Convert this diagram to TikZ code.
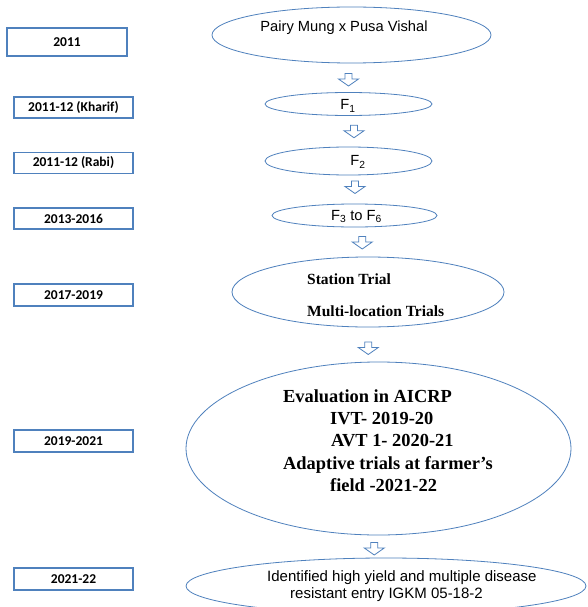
\documentclass[tikz,border=0pt]{standalone}
\usepackage{fontspec}
\setmainfont{Liberation Serif}
\newfontfamily\arialfont{Liberation Sans}
\newfontfamily\calfont{Carlito}
\usetikzlibrary{shapes.geometric, calc}

\definecolor{shapeblue}{RGB}{79,129,189}

\tikzset{
    yearbox/.style={draw=shapeblue, line width=1.1pt, fill=white,
        minimum width=119pt, minimum height=21pt, inner sep=0pt,
        font=\calfont\bfseries\fontsize{13.5}{15}\selectfont},
    stagebox/.style={ellipse, draw=shapeblue, line width=0.8pt, inner sep=0pt},
    sanslabel/.style={font=\arialfont\fontsize{14.7}{17}\selectfont, inner sep=0pt},
    seriflabel/.style={font=\bfseries\fontsize{15.5}{18}\selectfont, inner sep=0pt},
    arrowline/.style={draw=shapeblue, line width=0.8pt, line join=miter},
    dnarrow/.pic={
        \path[arrowline] (-3.5,-6) -- (3.5,-6) -- (3.5,-0.5) -- (10,-0.5)
            -- (0,6.5) -- (-10,-0.5) -- (-3.5,-0.5) -- cycle;
    }
}

\begin{document}
\begin{tikzpicture}[x=1pt, y=-1pt]
    \fill[white] (0,0) rectangle (587,607);
    \useasboundingbox (0,0) rectangle (587,607);

    \begin{scope}
        \node[yearbox, minimum width=120pt, minimum height=28pt] (y2011) at (67,42) {2011};
        \node[yearbox] (kharif) at (73.5,107.5) {2011-12 (Kharif)};
        \node[yearbox] (rabi) at (73.5,163) {2011-12 (Rabi)};
        \node[yearbox] (y1316) at (73.5,218.5) {2013-2016};
        \node[yearbox, minimum height=22pt] (y1719) at (73.5,295) {2017-2019};
        \node[yearbox, minimum height=22pt] (y1921) at (73.5,441) {2019-2021};
        \node[yearbox, minimum height=22pt] (y2122) at (73.5,579) {2021-22};
    \end{scope}

    \begin{scope}
        \node[stagebox, minimum width=279pt, minimum height=56pt] (cross) at (351.5,35) {};
        \node[stagebox, minimum width=167pt, minimum height=23pt] (fone) at (348.5,104) {};
        \node[stagebox, minimum width=167pt, minimum height=28pt] (ftwo) at (348.5,161) {};
        \node[stagebox, minimum width=165pt, minimum height=23pt] (fthree) at (354.5,215.5) {};
        \node[stagebox, minimum width=272pt, minimum height=70pt] (station) at (368,292) {};
        \node[stagebox, minimum width=385pt, minimum height=173pt] (aicrp) at (378.5,448.5) {};
        \node[stagebox, minimum width=400pt, minimum height=56pt] (entry) at (386,586) {};

        \node[sanslabel] (crosstxt) at (344,28) {Pairy Mung x Pusa Vishal};
        \node[sanslabel] (fonetxt) at (348,106) {F\textsubscript{1}};
        \node[sanslabel] (ftwotxt) at (358,162) {F\textsubscript{2}};
        \node[sanslabel] (fthreetxt) at (356.5,216.5) {F\textsubscript{3} to F\textsubscript{6}};
        \node[seriflabel, anchor=west, align=left] (stationtxt) at (307,295)
            {Station Trial\\[14pt]Multi-location Trials};
        \node[seriflabel, font=\bfseries\fontsize{18.4}{22.3}\selectfont,
            anchor=west, align=left] (aicrptxt) at (283,440.5)
            {Evaluation in AICRP\\
             \hspace*{47pt}IVT- 2019-20\\
             \hspace*{48pt}AVT 1- 2020-21\\
             Adaptive trials at farmer’s\\
             \hspace*{47pt}field -2021-22};
        \node[sanslabel, font=\arialfont\fontsize{15}{17}\selectfont,
            anchor=west, align=left] (entrytxt) at (267,586.5)
            {Identified high yield and multiple disease\\
             \hspace*{23pt}resistant entry IGKM 05-18-2};
    \end{scope}

    \pic at ($(cross.south)!.5!(fone.north)+(-1.5,1.75)$) {dnarrow};
    \pic at ($(fone.south)!.5!(ftwo.north)+(5.5,0)$) {dnarrow};
    \pic at ($(ftwo.south)!.5!(fthree.north)+(3.5,-2.5)$) {dnarrow};
    \pic at ($(fthree.south)!.5!(station.north)+(1,0.5)$) {dnarrow};
    \pic at ($(station.south)!.5!(aicrp.north)+(-5,3.5)$) {dnarrow};
    \pic at ($(aicrp.south)!.5!(entry.north)+(-8,2)$) {dnarrow};
\end{tikzpicture}
\end{document}
